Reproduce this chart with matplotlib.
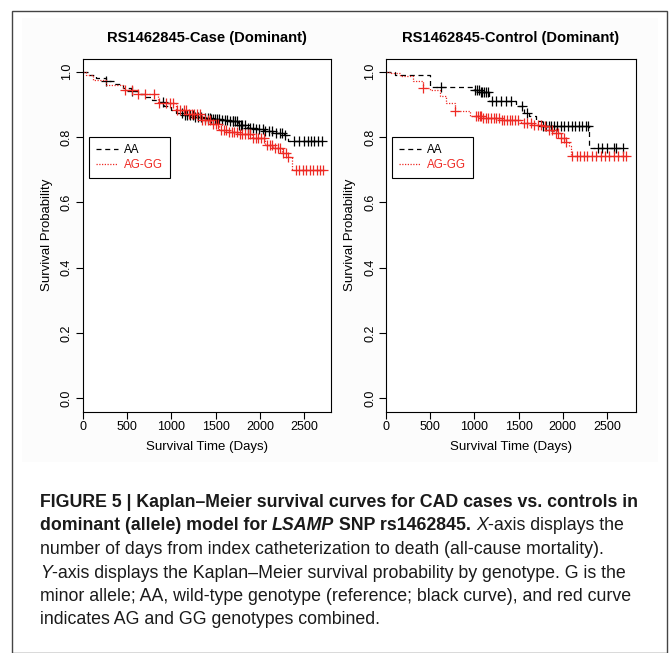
import numpy as np
import matplotlib
matplotlib.use("Agg")
import matplotlib.pyplot as plt
from matplotlib import font_manager
from matplotlib.patches import Rectangle

# Kaplan-Meier step curves (time in days, survival prob.)
case_aa_t = [0, 60, 150, 265, 350, 450, 550, 620, 700, 780, 844, 920, 1000, 1050,
             1150, 1250, 1350, 1450, 1550, 1650, 1750, 1850, 1950, 2050, 2150, 2265, 2320]
case_aa_s = [1.0, 0.99, 0.98, 0.97, 0.962, 0.95, 0.94, 0.93, 0.922, 0.914, 0.906, 0.895,
             0.882, 0.873, 0.866, 0.862, 0.858, 0.855, 0.852, 0.848, 0.838, 0.828, 0.823,
             0.818, 0.812, 0.805, 0.787]
case_aa_cens = [265, 560, 900, 1120, 1150, 1180, 1210, 1240, 1270, 1300, 1330, 1380, 1410,
                1430, 1450, 1470, 1490, 1510, 1540, 1570, 1600, 1630, 1660, 1690, 1700, 1720,
                1740, 1760, 1780, 1800, 1830, 1860, 1890, 1920, 1950, 1990, 2030, 2060, 2100,
                2140, 2180, 2220, 2250, 2280, 2380, 2440, 2500, 2540, 2570, 2610, 2650, 2700]

case_ag_t = [0, 40, 115, 265, 450, 620, 844, 1050, 1200, 1345, 1450, 1536, 1650, 1750,
             1906, 2059, 2150, 2245, 2320, 2358]
case_ag_s = [1.0, 0.99, 0.975, 0.96, 0.945, 0.93, 0.905, 0.883, 0.87, 0.853, 0.84, 0.822,
             0.815, 0.808, 0.798, 0.776, 0.765, 0.752, 0.74, 0.70]
case_ag_cens = [480, 560, 620, 700, 800, 860, 940, 980, 1020, 1060, 1100, 1140, 1170, 1200,
                1230, 1260, 1290, 1320, 1350, 1380, 1410, 1440, 1470, 1500, 1530, 1560, 1590,
                1620, 1650, 1680, 1710, 1740, 1770, 1800, 1830, 1860, 1890, 1920, 1950, 1980,
                2010, 2040, 2080, 2110, 2140, 2170, 2200, 2230, 2260, 2290, 2320, 2400, 2440,
                2480, 2520, 2560, 2600, 2640, 2680, 2710]

ctrl_aa_t = [0, 100, 495, 1000, 1059, 1171, 1472, 1565, 1622, 1700, 1771, 2297]
ctrl_aa_s = [1.0, 0.99, 0.953, 0.945, 0.936, 0.909, 0.894, 0.873, 0.863, 0.85, 0.833, 0.766]
ctrl_aa_cens = [627, 1010, 1030, 1050, 1070, 1090, 1110, 1130, 1160, 1200, 1250, 1300, 1360,
                1420, 1540, 1600, 1780, 1810, 1840, 1870, 1900, 1940, 1980, 2020, 2060, 2100,
                2140, 2180, 2220, 2260, 2290, 2400, 2450, 2500, 2580, 2600, 2680]

ctrl_ag_t = [0, 60, 158, 307, 420, 495, 608, 683, 777, 946, 1100, 1300, 1528, 1655, 1771,
             1810, 1885, 1978, 2035, 2072, 2091]
ctrl_ag_s = [1.0, 0.995, 0.987, 0.971, 0.95, 0.945, 0.924, 0.904, 0.879, 0.865, 0.857,
             0.852, 0.843, 0.837, 0.833, 0.822, 0.812, 0.796, 0.786, 0.772, 0.741]
ctrl_ag_cens = [420, 780, 1020, 1040, 1060, 1080, 1100, 1130, 1160, 1190, 1220, 1250, 1280,
                1310, 1340, 1370, 1400, 1430, 1460, 1490, 1560, 1600, 1640, 1680, 1720, 1760,
                1800, 1840, 1880, 1920, 1950, 1980, 2010, 2040, 2110, 2160, 2200, 2240, 2280,
                2330, 2380, 2430, 2480, 2530, 2580, 2630, 2680, 2720]

titles = ["RS1462845-Case (Dominant)", "RS1462845-Control (Dominant)"]
group_labels = ["AA", "AG-GG"]
xticks = [0, 500, 1000, 1500, 2000, 2500]
yticks = [0.0, 0.2, 0.4, 0.6, 0.8, 1.0]

RED = "#ee2a24"
plt.rcParams["font.family"] = ["Liberation Sans", "DejaVu Sans"]

W, H = 671, 653
fig = plt.figure(figsize=(W / 100, H / 100), dpi=100)

# page frame and faint panel background
bg = fig.add_axes([0, 0, 1, 1])
bg.set_xlim(0, W)
bg.set_ylim(H, 0)
bg.axis("off")
bg.add_patch(Rectangle((22, 18), 636, 444, facecolor="#fcfcfc", edgecolor="none"))
bg.add_patch(Rectangle((12, 11), 655, 642, facecolor="none", edgecolor="#444444", lw=1.0))


def km_plot(ax, t_aa, s_aa, c_aa, t_ag, s_ag, c_ag, xmax, title):
    for t, s, cens, color, ls, lab in [(t_aa, s_aa, c_aa, "black", (0, (4, 3)), group_labels[0]),
                                      (t_ag, s_ag, c_ag, RED, (0, (1, 1.2)), group_labels[1])]:
        t = np.array(t, dtype=float)
        s = np.array(s, dtype=float)
        cens = np.array(cens, dtype=float)
        tt = np.append(t, max(cens.max(), t.max()))
        ss = np.append(s, s[-1])
        ax.step(tt, ss, where="post", color=color, lw=0.9, linestyle=ls, label=lab)
        idx = np.searchsorted(t, cens, side="right") - 1
        ax.plot(cens, s[idx], linestyle="none", marker="+", ms=7, mew=0.9, color=color)
    ax.set_xlim(0, xmax)
    ax.set_ylim(-0.04, 1.04)
    ax.set_xticks(xticks)
    ax.set_xticklabels([str(v) for v in xticks])
    ax.set_yticks(yticks)
    ax.set_yticklabels(["%.1f" % v for v in yticks], rotation=90, va="center")
    ax.tick_params(direction="out", length=5, width=0.8, labelsize=9, pad=2)
    for sp in ax.spines.values():
        sp.set_linewidth(0.8)
    ax.set_xlabel("Survival Time (Days)", fontsize=9.5)
    ax.set_ylabel("Survival Probability", fontsize=9.5)
    ax.xaxis.set_label_coords(0.5, -0.083)
    ax.yaxis.set_label_coords(-0.12, 0.5)
    ax.set_title(title, fontsize=10.6, fontweight="bold", pad=12)
    leg = ax.legend(loc="upper left", bbox_to_anchor=(0.025, 0.778), borderaxespad=0,
                    fancybox=False, edgecolor="black", framealpha=1, fontsize=8.4,
                    handlelength=1.9, handletextpad=0.5, labelcolor="linecolor",
                    borderpad=0.6, labelspacing=0.25)
    leg.get_frame().set_linewidth(0.8)


ax1 = fig.add_axes([82.7 / W, 1 - 411.5 / H, 248.3 / W, 353 / H])
ax2 = fig.add_axes([386 / W, 1 - 411.5 / H, 250 / W, 353 / H])
km_plot(ax1, case_aa_t, case_aa_s, case_aa_cens, case_ag_t, case_ag_s, case_ag_cens,
        2800, titles[0])
km_plot(ax2, ctrl_aa_t, ctrl_aa_s, ctrl_aa_cens, ctrl_ag_t, ctrl_ag_s, ctrl_ag_cens,
        2830, titles[1])

# caption with mixed bold / italic runs
names = {f.name for f in font_manager.fontManager.ttflist}
if "Liberation Sans Narrow" in names:
    cap_family, cap_size = "Liberation Sans Narrow", 12.8
else:
    cap_family, cap_size = "Liberation Sans", 12.8

caption = [
    [("FIGURE 5 | Kaplan\u2013Meier survival curves for CAD cases vs. controls in", "bold", "normal")],
    [("dominant (allele) model for ", "bold", "normal"), ("LSAMP", "bold", "italic"),
     (" SNP rs1462845.", "bold", "normal"), (" ", "normal", "normal"), ("X", "normal", "italic"),
     ("-axis displays the", "normal", "normal")],
    [("number of days from index catheterization to death (all-cause mortality).", "normal", "normal")],
    [("Y", "normal", "italic"),
     ("-axis displays the Kaplan\u2013Meier survival probability by genotype. G is the", "normal", "normal")],
    [("minor allele; AA, wild-type genotype (reference; black curve), and red curve", "normal", "normal")],
    [("indicates AG and GG genotypes combined.", "normal", "normal")],
]
baselines = [507, 530.5, 554, 577.5, 601, 624.5]
for parts, yb in zip(caption, baselines):
    yf = 1 - yb / H
    prev = None
    for txt, wt, st in parts:
        kw = dict(fontsize=cap_size, fontweight=wt, fontstyle=st, family=cap_family,
                  color="#1a1a1a", va="baseline", ha="left")
        if prev is None:
            prev = bg.annotate(txt, xy=(40 / W, yf), xycoords="figure fraction", **kw)
        else:
            prev = bg.annotate(txt, xy=(1, yf), xycoords=(prev, "figure fraction"), **kw)

fig.savefig("out.png", dpi=100)
